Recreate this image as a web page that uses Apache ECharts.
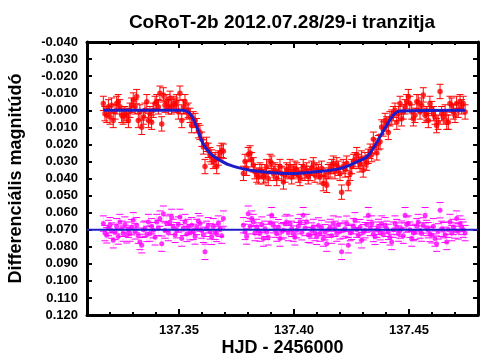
<!DOCTYPE html>
<html>
<head>
<meta charset="utf-8">
<script src="https://cdn.jsdelivr.net/npm/echarts@6/dist/echarts.min.js"></script>
<style>html,body{margin:0;padding:0;background:#fff}#c{width:504px;height:360px}</style>
</head>
<body>
<div id="c"></div>
<script>
// ---- data (HJD - 2456000) ----
const titleText = 'CoRoT-2b 2012.07.28/29-i tranzitja';
const xName = 'HJD - 2456000';
const yName = 'Differenciális magnitúdó';

const times = [
137.3171,137.3178,137.3186,137.3193,137.3200,137.3207,137.3214,137.3222,137.3229,137.3236,
137.3243,137.3251,137.3257,137.3265,137.3273,137.3280,137.3287,137.3294,137.3301,137.3309,
137.3316,137.3323,137.3330,137.3338,137.3345,137.3352,137.3360,137.3367,137.3374,137.3381,
137.3388,137.3396,137.3403,137.3410,137.3417,137.3425,137.3432,137.3439,137.3447,137.3454,
137.3461,137.3468,137.3475,137.3483,137.3490,137.3497,137.3504,137.3512,137.3519,137.3526,
137.3534,137.3540,137.3548,137.3555,137.3562,137.3570,137.3577,137.3584,137.3591,137.3599,
137.3606,137.3613,137.3620,137.3627,137.3635,137.3642,137.3649,137.3657,137.3664,137.3671,
137.3678,137.3686,137.3693,
137.3780,137.3787,137.3794,137.3801,137.3809,137.3816,137.3823,137.3830,137.3838,137.3845,
137.3852,137.3860,137.3867,137.3874,137.3881,137.3888,137.3896,137.3903,137.3910,137.3917,
137.3925,137.3932,137.3939,137.3947,137.3954,137.3961,137.3968,137.3975,137.3983,137.3990,
137.3997,137.4004,137.4012,137.4019,137.4026,137.4034,137.4040,137.4048,137.4055,137.4062,
137.4070,137.4077,137.4084,137.4091,137.4099,137.4106,137.4113,137.4120,137.4127,137.4135,
137.4142,137.4149,137.4157,137.4164,137.4171,137.4178,137.4186,137.4193,137.4200,137.4207,
137.4214,137.4222,137.4229,137.4236,137.4244,137.4251,137.4258,137.4265,137.4273,137.4280,
137.4287,137.4294,137.4301,137.4309,137.4316,137.4323,137.4331,137.4338,137.4345,137.4352,
137.4360,137.4367,137.4374,137.4381,137.4388,137.4396,137.4403,137.4410,137.4417,137.4425,
137.4432,137.4439,137.4447,137.4454,137.4461,137.4468,137.4475,137.4483,137.4490,137.4497,
137.4504,137.4512,137.4519,137.4526,137.4534,137.4540,137.4548,137.4555,137.4562,137.4570,
137.4577,137.4584,137.4591,137.4599,137.4606,137.4613,137.4620,137.4627,137.4635,137.4642,
137.4649,137.4657,137.4664,137.4671,137.4678,137.4686,137.4693,137.4700,137.4707,137.4714,
137.4722,137.4729,137.4736,137.4744
];

// CoRoT-2 minus comparison (red)
const targetMag = [
-0.004,0.002,0.003,-0.002,0.004,-0.003,0.006,0.001,-0.004,-0.005,
-0.002,0.003,0.004,0.002,0.003,0.006,0.000,-0.003,-0.006,-0.002,
-0.008,0.006,0.001,0.010,0.004,0.000,-0.005,0.006,0.002,0.007,
0.000,-0.004,-0.005,-0.002,-0.010,0.008,-0.009,-0.003,-0.005,-0.002,
-0.007,-0.002,-0.004,-0.003,-0.005,0.001,-0.010,0.006,-0.002,-0.005,
0.001,0.000,0.003,0.009,0.005,0.006,0.009,0.012,0.013,0.017,
0.0215,0.033,0.020,0.0235,0.026,0.0274,0.030,0.029,0.033,0.028,
0.025,0.0235,0.024,
0.037,0.030,0.034,0.026,0.025,0.029,0.032,0.036,0.038,0.039,
0.035,0.036,0.039,0.038,0.033,0.040,0.030,0.031,0.037,0.035,
0.040,0.036,0.033,0.037,0.042,0.038,0.035,0.036,0.033,0.039,
0.036,0.034,0.035,0.038,0.040,0.036,0.033,0.037,0.035,0.039,
0.037,0.034,0.032,0.038,0.035,0.036,0.039,0.034,0.043,0.038,
0.044,0.036,0.035,0.033,0.031,0.036,0.032,0.034,0.037,0.048,
0.033,0.035,0.031,0.043,0.037,0.033,0.030,0.029,0.026,0.030,
0.032,0.028,0.035,0.029,0.031,0.027,0.024,0.026,0.017,0.021,
0.025,0.019,0.0185,0.0098,0.011,0.006,0.008,0.013,0.005,0.004,
0.002,0.000,0.007,0.002,-0.004,0.005,0.001,-0.002,-0.005,-0.008,
-0.004,0.001,0.005,0.003,-0.005,-0.005,0.001,-0.003,-0.009,0.003,
0.002,0.006,-0.004,-0.001,0.002,0.004,0.009,0.007,-0.011,0.002,
0.004,0.001,0.007,0.007,-0.004,-0.003,0.001,0.003,-0.004,0.000,
-0.005,-0.002,-0.004,0.001
];

// check star (magenta)
const checkMag = [
0.0664,0.0720,0.0733,0.0690,0.0674,0.0705,0.0762,0.0713,0.0680,0.0740,
0.0655,0.0695,0.0723,0.0670,0.0733,0.0700,0.0723,0.0685,0.0645,0.0710,
0.0674,0.0735,0.0772,0.0791,0.0700,0.0694,0.0725,0.0655,0.0723,0.0680,
0.0703,0.0745,0.0655,0.0690,0.0635,0.0782,0.0606,0.0705,0.0664,0.0720,
0.0655,0.0625,0.0684,0.0730,0.0703,0.0670,0.0625,0.0752,0.0690,0.0655,
0.0725,0.0684,0.0715,0.0674,0.0713,0.0740,0.0684,0.0650,0.0664,0.0705,
0.0730,0.0830,0.0695,0.0674,0.0710,0.0742,0.0680,0.0713,0.0725,0.0664,
0.0695,0.0735,0.0635,
0.0674,0.0713,0.0740,0.0606,0.0680,0.0635,0.0655,0.0720,0.0684,0.0705,
0.0723,0.0670,0.0752,0.0695,0.0713,0.0745,0.0660,0.0615,0.0674,0.0700,
0.0723,0.0685,0.0752,0.0710,0.0703,0.0665,0.0655,0.0720,0.0664,0.0695,
0.0723,0.0745,0.0703,0.0680,0.0655,0.0715,0.0615,0.0690,0.0655,0.0730,
0.0733,0.0705,0.0684,0.0720,0.0742,0.0675,0.0723,0.0690,0.0752,0.0715,
0.0782,0.0700,0.0684,0.0735,0.0664,0.0695,0.0723,0.0670,0.0710,0.0830,
0.0705,0.0694,0.0665,0.0791,0.0720,0.0713,0.0680,0.0645,0.0700,0.0733,
0.0685,0.0762,0.0715,0.0703,0.0670,0.0615,0.0690,0.0664,0.0725,0.0742,
0.0700,0.0684,0.0715,0.0664,0.0730,0.0674,0.0695,0.0713,0.0745,0.0772,
0.0700,0.0664,0.0685,0.0723,0.0705,0.0694,0.0735,0.0615,0.0670,0.0664,
0.0700,0.0752,0.0720,0.0713,0.0680,0.0655,0.0705,0.0723,0.0675,0.0615,
0.0690,0.0703,0.0725,0.0733,0.0680,0.0752,0.0782,0.0710,0.0586,0.0695,
0.0703,0.0730,0.0772,0.0700,0.0655,0.0720,0.0684,0.0705,0.0635,0.0710,
0.0664,0.0684,0.0700,0.0720
];

const targetErr = 0.0042;
const checkErr = 0.0045;

// fitted transit model
const modelT = [137.3171,137.3513,137.3548,137.3577,137.3604,137.3635,137.3664,137.3722,137.3809,137.3896,137.3983,137.4083,137.4200,137.4273,137.4316,137.4344,137.4374,137.4403,137.4431,137.4461,137.4744];
const modelMag = [0.000,0.000,0.002,0.0098,0.0194,0.0252,0.0282,0.0322,0.0352,0.0365,0.0371,0.0362,0.0342,0.0303,0.0274,0.0225,0.0156,0.0088,0.0029,0.0004,0.000];

const checkLevel = 0.070;
const xMin = 137.31, xMax = 137.48, xStep = 0.01, xMajor = [137.35, 137.40, 137.45];
const yMin = -0.04, yMax = 0.12, yStep = 0.01;

// ---- chart ----
const chart = echarts.init(document.getElementById('c'), null, {renderer: 'canvas'});
const FONT = 'Liberation Sans, Arial, sans-serif';

function errRender(color, capW, barOpacity) {
  return function (params, api) {
    const x = api.value(0), y = api.value(1), e = api.value(2);
    const a = api.coord([x, y - e]);
    const b = api.coord([x, y + e]);
    return {
      type: 'group',
      children: [
        {type: 'line', shape: {x1: a[0], y1: a[1], x2: b[0], y2: b[1]}, style: {stroke: color, lineWidth: 1, opacity: barOpacity}},
        {type: 'line', shape: {x1: a[0] - capW, y1: a[1], x2: a[0] + capW, y2: a[1]}, style: {stroke: color, lineWidth: 1}},
        {type: 'line', shape: {x1: b[0] - capW, y1: b[1], x2: b[0] + capW, y2: b[1]}, style: {stroke: color, lineWidth: 1}}
      ]
    };
  };
}

const redData = times.map((t, i) => [t, targetMag[i], targetErr]);
const magData = times.map((t, i) => [t, checkMag[i], checkErr]);
const modelData = modelT.map((t, i) => [t, modelMag[i]]);

const majorTickLen = 0.0035;
const majorTicks = [];
xMajor.forEach(v => {
  majorTicks.push([{coord: [v, yMax]}, {coord: [v, yMax - majorTickLen]}]);
  majorTicks.push([{coord: [v, yMin]}, {coord: [v, yMin + majorTickLen]}]);
});

const axisLineStyle = {color: '#000', width: 3};
const tickStyle = {color: '#000', width: 2};

const option = {
  animation: false,
  backgroundColor: '#fff',
  title: {
    text: titleText,
    left: 277, top: 8, textAlign: 'center',
    textStyle: {fontFamily: FONT, fontSize: 19, fontWeight: 'bold', color: '#000'}
  },
  grid: {left: 87, top: 42, right: 26, bottom: 45, outerBoundsMode: 'none', containLabel: false},
  xAxis: [
    {
      type: 'value', min: xMin, max: xMax, interval: xStep, position: 'bottom',
      name: xName, nameLocation: 'middle', nameGap: 24, nameMoveOverlap: false,
      nameTextStyle: {fontFamily: FONT, fontSize: 18, fontWeight: 'bold', color: '#000'},
      axisLine: {show: true, onZero: false, lineStyle: axisLineStyle},
      axisTick: {show: true, inside: true, length: 3, lineStyle: tickStyle},
      splitLine: {show: false},
      axisLabel: {
        margin: 9, fontFamily: FONT, fontSize: 13, fontWeight: 'bold', color: '#000',
        formatter: v => (Math.abs(v / 0.05 - Math.round(v / 0.05)) < 1e-6 ? v.toFixed(2) : '')
      }
    },
    {
      type: 'value', min: xMin, max: xMax, interval: xStep, position: 'top',
      axisLine: {show: true, onZero: false, lineStyle: axisLineStyle},
      axisTick: {show: true, inside: true, length: 3, lineStyle: tickStyle},
      splitLine: {show: false}, axisLabel: {show: false}
    }
  ],
  yAxis: [
    {
      type: 'value', inverse: true, min: yMin, max: yMax, interval: yStep, position: 'left',
      name: yName, nameLocation: 'middle', nameGap: 62, nameMoveOverlap: false,
      nameTextStyle: {fontFamily: FONT, fontSize: 18, fontWeight: 'bold', color: '#000'},
      axisLine: {show: true, onZero: false, lineStyle: axisLineStyle},
      axisTick: {show: true, inside: true, length: 5, lineStyle: tickStyle},
      splitLine: {show: false},
      axisLabel: {margin: 9, fontFamily: FONT, fontSize: 13, fontWeight: 'bold', color: '#000',
        formatter: v => v.toFixed(3)}
    },
    {
      type: 'value', inverse: true, min: yMin, max: yMax, interval: yStep, position: 'right',
      axisLine: {show: true, onZero: false, lineStyle: axisLineStyle},
      axisTick: {show: true, inside: true, length: 5, lineStyle: tickStyle},
      splitLine: {show: false}, axisLabel: {show: false}
    }
  ],
  series: [
    {
      type: 'custom', renderItem: errRender('#ff00ff', 3.5, 0.18), data: magData,
      encode: {x: 0, y: 1}, z: 2, silent: true
    },
    {
      type: 'scatter', data: magData.map(d => [d[0], d[1]]), symbol: 'circle', symbolSize: 5,
      itemStyle: {color: '#ff00ff'}, z: 3, silent: true
    },
    {
      type: 'custom', renderItem: errRender('#ff0000', 3.5, 1), data: redData,
      encode: {x: 0, y: 1}, z: 4, silent: true
    },
    {
      type: 'scatter', data: redData.map(d => [d[0], d[1]]), symbol: 'circle', symbolSize: 5.5,
      itemStyle: {color: '#ff0000'}, z: 5, silent: true
    },
    {
      type: 'line', data: modelData, smooth: 0.35, showSymbol: false, symbol: 'none',
      lineStyle: {color: '#1c1cc8', width: 3}, z: 6, silent: true,
      markLine: {
        silent: true, symbol: 'none', label: {show: false},
        lineStyle: {color: '#000', width: 2, type: 'solid'},
        data: majorTicks
      }
    },
    {
      type: 'line', data: [[xMin, checkLevel], [xMax, checkLevel]], showSymbol: false, symbol: 'none',
      lineStyle: {color: '#1c1cc8', width: 2}, z: 7, silent: true
    }
  ]
};
chart.setOption(option);
</script>
</body>
</html>
